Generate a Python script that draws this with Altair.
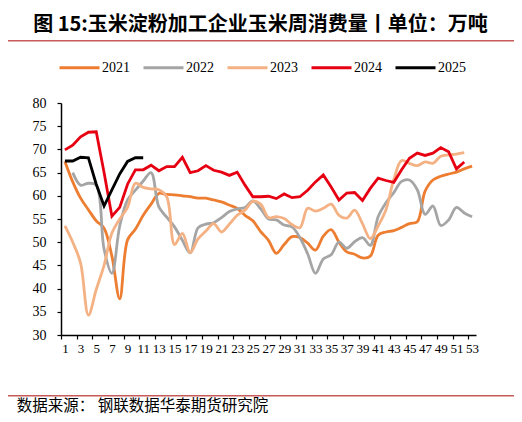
import altair as alt
import pandas as pd

weeks = list(range(1, 54))

y2021 = [67.4, 63.0, 59.5, 57.0, 54.6, 53.0, 47.0, 37.8, 50.5, 52.8,
         55.8, 58.2, 60.5, 60.3, 60.2, 60.0, 59.8, 59.5, 59.5, 59.1,
         58.7, 58.0, 57.3, 55.8, 54.6, 52.3, 50.4, 47.6, 49.5, 51.2,
         51.0, 49.8, 48.3, 51.3, 52.7, 50.0, 47.9, 47.4, 46.6, 47.0,
         51.5, 52.2, 52.5, 53.2, 54.0, 54.4, 61.0, 63.4, 64.2, 64.7,
         65.1, 65.8, 66.4]
y2022 = [None, 65.0, 62.3, 62.7, 62.3, 48.5, 43.3, 53.5, 59.1, 61.2,
         63.2, 65.0, 57.6, 55.4, 53.3, 50.4, 47.7, 53.1, 53.9, 54.2,
         55.3, 56.6, 57.2, 57.5, 58.9, 57.2, 55.0, 54.8, 53.7, 53.3,
         51.0, 47.5, 43.3, 46.4, 47.3, 50.0, 48.7, 50.1, 51.0, 49.3,
         55.5, 58.5, 60.7, 63.1, 63.4, 61.3, 56.0, 57.8, 53.6, 54.8,
         57.5, 56.3, 55.5]
y2023 = [53.5, 50.0, 45.5, 34.3, 39.8, 45.0, 52.0, 55.0, 57.5, 62.7,
         61.8, 61.5, 61.3, 59.8, 49.5, 51.9, 47.8, 50.7, 52.4, 54.0,
         52.2, 53.9, 55.8, 56.9, 58.8, 58.2, 55.3, 55.5, 55.1, 53.8,
         53.1, 57.3, 56.7, 57.3, 58.2, 55.8, 55.2, 56.9, 54.0, 50.8,
         53.5, 57.0, 63.5, 67.6, 67.0, 66.5, 67.3, 67.0, 68.5, 68.8,
         69.0, 69.3, None]
y2024 = [69.9, 70.9, 72.7, 73.7, 73.8, 65.0, 55.6, 57.5, 62.5, 65.6,
         65.6, 66.6, 65.4, 66.3, 66.3, 68.3, 65.0, 65.4, 66.5, 65.5,
         65.1, 64.4, 65.1, 62.3, 59.8, 59.8, 59.9, 59.4, 60.4, 59.6,
         59.8, 61.2, 63.0, 64.5, 61.9, 59.1, 60.6, 60.7, 59.0, 61.6,
         63.8, 63.3, 62.9, 65.6, 68.1, 69.2, 68.7, 69.2, 70.4, 69.5,
         65.8, 67.3, None]
y2025 = [67.5, 67.5, 68.3, 68.2, 62.5, 57.8, 61.3, 64.7, 67.4, 68.2,
         68.2] + [None] * 42

years = ["2021", "2022", "2023", "2024", "2025"]
colors = ["#ED7D31", "#A5A5A5", "#F4B183", "#E60012", "#000000"]
smooth_years = ["2021", "2022", "2023"]
straight_years = ["2024", "2025"]
x_tick_values = [0.5 + 2 * i for i in range(27)]
y_tick_values = list(range(30, 81, 5))

title_text = "图 15:玉米淀粉加工企业玉米周消费量丨单位：万吨"
source_text = "数据来源： 钢联数据华泰期货研究院"

series = dict(zip(years, [y2021, y2022, y2023, y2024, y2025]))
rows = []
for yr, vals in series.items():
    for w, v in zip(weeks, vals):
        if v is not None:
            rows.append({"week": w, "value": v, "year": yr})
df = pd.DataFrame(rows)

x_enc = alt.X(
    "week:Q",
    scale=alt.Scale(domain=[0.5, 53.5], nice=False, zero=False),
    axis=alt.Axis(
        values=x_tick_values,
        labelExpr="format(datum.value + 0.5, 'd')",
        labelOffset=3.9,
        title=None,
        grid=False,
        domainColor="black",
        domainWidth=1.5,
        tickColor="black",
        tickWidth=1.2,
        tickSize=4,
        labelFont="Liberation Serif",
        labelFontSize=13,
        labelColor="black",
        labelPadding=3,
        labelOverlap=False,
        labelFlush=False,
        labelBound=False,
    ),
)
y_enc = alt.Y(
    "value:Q",
    scale=alt.Scale(domain=[30, 80], nice=False, zero=False),
    axis=alt.Axis(
        values=y_tick_values,
        title=None,
        grid=False,
        domainColor="black",
        domainWidth=1.5,
        tickColor="black",
        tickWidth=1.2,
        tickSize=4,
        labelFont="Liberation Serif",
        labelFontSize=14,
        labelColor="black",
        labelPadding=11,
        labelFlush=False,
    ),
)
legend = alt.Legend(
    title=None,
    orient="none",
    legendX=-3,
    legendY=-57,
    direction="horizontal",
    symbolType="stroke",
    symbolSize=1600,
    symbolStrokeWidth=3,
    labelFont="Liberation Serif",
    labelFontSize=14,
    labelColor="black",
    labelOffset=1,
    columnPadding=7,
)
color_enc = alt.Color(
    "year:N",
    scale=alt.Scale(domain=years, range=colors),
    legend=legend,
)

base = alt.Chart(df).encode(x=x_enc, y=y_enc, color=color_enc, detail="year:N")

smooth = base.transform_filter(
    alt.FieldOneOfPredicate(field="year", oneOf=smooth_years)
).mark_line(interpolate="catmull-rom", strokeWidth=2.8)

straight = base.transform_filter(
    alt.FieldOneOfPredicate(field="year", oneOf=straight_years)
).mark_line(strokeWidth=2.8)

title_mark = alt.Chart(pd.DataFrame({"t": [title_text]})).mark_text(
    font="Noto Sans CJK SC", fontSize=20, fontWeight="bold", color="black",
    align="center", baseline="middle"
).encode(text="t:N", x=alt.value(199.5), y=alt.value(-78.5))

top_rule = alt.Chart(pd.DataFrame({"a": [0]})).mark_rule(
    color="#C85A5A", strokeWidth=1.5
).encode(x=alt.value(-56), x2=alt.value(455), y=alt.value(-62.3))

bottom_rule = alt.Chart(pd.DataFrame({"a": [0]})).mark_rule(
    color="#C85A5A", strokeWidth=1.5
).encode(x=alt.value(-56), x2=alt.value(455), y=alt.value(292.7))

source_mark = alt.Chart(pd.DataFrame({"t": [source_text]})).mark_text(
    font="Noto Sans CJK SC", fontSize=15.5, color="black",
    align="left", baseline="middle"
).encode(text="t:N", x=alt.value(-44.3), y=alt.value(302.5))

chart = alt.layer(
    smooth, straight, title_mark, top_rule, bottom_rule, source_mark
).properties(
    width=415,
    height=232,
    padding={"left": 53, "top": 95, "right": 38, "bottom": 79},
    autosize=alt.AutoSizeParams(type="none"),
).configure_view(stroke=None)

chart.save("out.html", embed_options={"renderer": "svg", "actions": False})
